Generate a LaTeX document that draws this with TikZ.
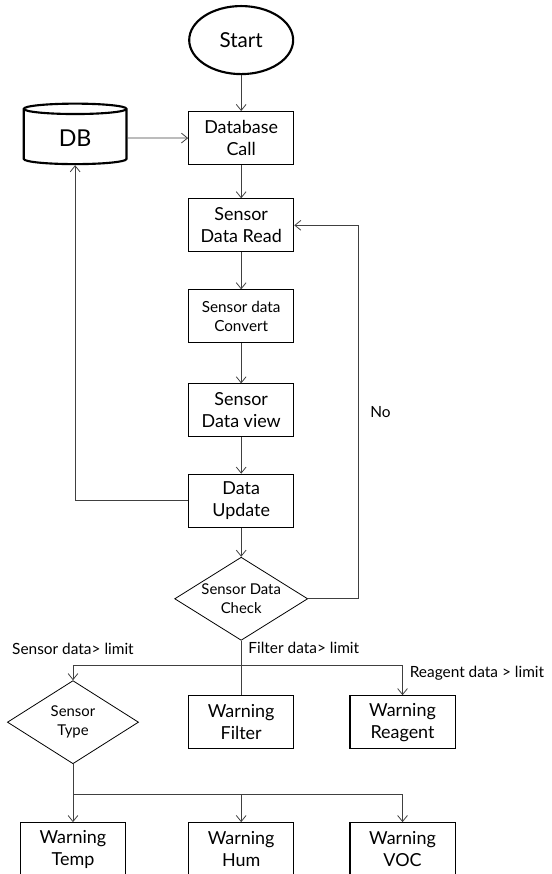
\documentclass[tikz,border=0pt]{standalone}
\usepackage{fontspec}
\setmainfont{Lato}
\usetikzlibrary{shapes.geometric, arrows.meta, positioning}

\begin{document}
\begin{tikzpicture}[
    font=\fontsize{13.5}{16.5}\selectfont,
    process/.style={
        draw=black,
        fill=white,
        line width=0.8pt,
        align=center,
        minimum width=2.78cm,
        minimum height=1.40cm,
        inner sep=2pt
    },
    small process/.style={
        process,
        font=\fontsize{11.5}{14.5}\selectfont
    },
    decision/.style={
        draw=black,
        diamond,
        aspect=1.6,
        inner sep=0pt,
        align=center,
        line width=0.6pt,
        font=\fontsize{11.2}{14.5}\selectfont
    },
    terminal/.style={
        draw=black,
        ellipse,
        line width=1.6pt,
        minimum width=2.75cm,
        minimum height=1.80cm,
        font=\fontsize{15.5}{18}\selectfont
    },
    database/.style={
        draw=black,
        cylinder,
        shape border rotate=90,
        aspect=0.25,
        line width=1.6pt,
        minimum width=2.72cm,
        minimum height=1.6cm,
        font=\fontsize{17.5}{20}\selectfont
    },
    flow arrow/.style={
        -{Straight Barb[length=1.6mm, width=2.6mm]},
        draw=black!75,
        line width=0.6pt
    },
    flow line/.style={
        draw=black!75,
        line width=0.6pt
    },
    edge label/.style={
        font=\fontsize{11.6}{13}\selectfont,
        inner sep=1pt
    }
]

    \useasboundingbox (0,0) rectangle (14.58,-23.12);

    % Main column
    \node[terminal] (start) at (6.38,-1.06) {Start};
    \node[process, below=0.95cm of start] (dbcall) {Database\\Call};
    \node[database, left=1.6cm of dbcall] (db) {DB};
    \node[process, below=0.88cm of dbcall] (read) {Sensor\\Data Read};
    \node[small process, below=0.98cm of read] (convert) {Sensor data\\Convert};
    \node[process, below=1.06cm of convert] (view) {Sensor\\Data view};
    \node[process, below=0.96cm of view] (update) {Data\\Update};
    \node[decision, minimum width=3.52cm, minimum height=2.2cm, below=0.77cm of update] (check) {Sensor Data\\Check};

    % --- Warnings ---
    \node[process, below=1.44cm of check] (filter) {Warning\\Filter};
    \node[decision, minimum width=3.47cm, minimum height=2.2cm, left=1.3cm of filter] (type) {Sensor\\Type};
    \node[process, right=1.46cm of filter] (reagent) {Warning\\Reagent};
    \node[process, below=1.93cm of filter] (hum) {Warning\\Hum};
    \node[process] (temp) at (type |- hum) {Warning\\Temp};
    \node[process] (voc) at (reagent |- hum) {Warning\\VOC};

    % Flow
    \draw[flow arrow] (start) -- (dbcall);
    \draw[flow arrow] (db) -- (dbcall);
    \draw[flow arrow] (dbcall) -- (read);
    \draw[flow arrow] (read) -- (convert);
    \draw[flow arrow] (convert) -- (view);
    \draw[flow arrow] (view) -- (update);
    \draw[flow arrow] (update) -- (check);
    \draw[flow arrow] (update.west) -| (db.south);

    % --- No: read again ---
    \coordinate[right=1.32cm of check.east] (noturn);
    \draw[flow arrow] (check.east) -- (noturn) |- node[edge label, pos=0.25, right=8pt] (nolbl) {No} (read.east);

    % --- limit branches ---
    \coordinate[below=0.66cm of check.south] (split1);
    \coordinate (tsplit) at (type.north |- split1);
    \coordinate (rsplit) at (reagent.north |- split1);
    \draw[flow line] (check.south) -- (filter.north);
    \draw[flow line] (tsplit) -- (rsplit);
    \draw[flow arrow] (tsplit) -- (type.north);
    \draw[flow arrow] (rsplit) -- (reagent.north);

    \node[edge label, above=0.25cm of tsplit] (lblsensor) {Sensor data> limit};
    \node[edge label, anchor=west] (lblfilter) at ([xshift=0.15cm, yshift=-0.185cm]check.south) {Filter data> limit};
    \node[edge label, anchor=west] (lblreagent) at ([xshift=0.15cm, yshift=-0.21cm]rsplit) {Reagent data > limit};

    % --- sensor types ---
    \coordinate[below=0.79cm of type.south] (split2);
    \coordinate (hsplit) at (hum.north |- split2);
    \coordinate (vsplit) at (voc.north |- split2);
    \draw[flow line] (type.south) -- (split2) -- (vsplit);
    \draw[flow arrow] (split2) -- (temp.north);
    \draw[flow arrow] (hsplit) -- (hum.north);
    \draw[flow arrow] (vsplit) -- (voc.north);

\end{tikzpicture}
\end{document}
